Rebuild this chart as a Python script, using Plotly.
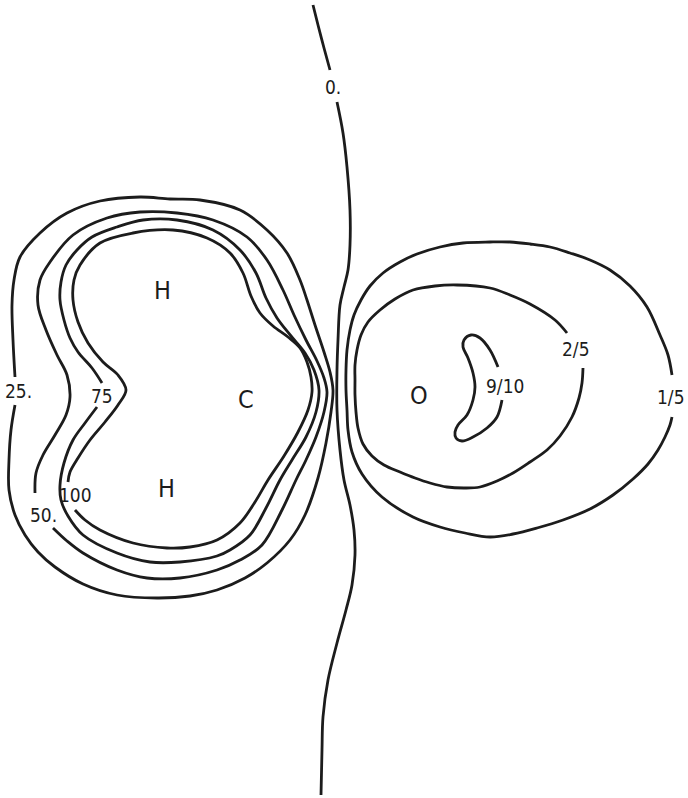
import plotly.graph_objects as go

# Contour lines of the molecular potential map (plane of the molecule),
# each given as (x, y) points in drawing units, y measured downward.

ZERO_UPPER = [(313, 5), (318, 25), (324, 48), (330, 70)]
ZERO_LOWER = [(337, 102), (343, 133), (347, 167), (350, 210), (350, 245), (348, 270),
              (344, 287), (340, 305), (338, 340), (337, 370), (337, 410), (340, 450),
              (344, 480), (350, 505), (354, 530), (355, 555), (352, 585), (346, 610),
              (337, 643), (328, 680), (323, 717), (322, 750), (321, 795)]

LEVEL_25 = [(15, 377), (13, 340), (12, 305), (14, 280), (20, 257), (40, 233), (67, 213),
            (100, 201), (140, 197), (170, 199), (200, 200), (240, 210), (267, 230),
            (287, 253), (300, 280), (307, 300), (315, 325), (324, 352), (330, 372),
            (333, 390), (331, 412), (326, 443), (318, 478), (305, 515), (290, 540),
            (267, 563), (245, 578), (217, 590), (190, 596), (157, 598), (117, 595),
            (83, 584), (55, 567), (38, 552), (25, 535), (15, 515), (9, 490), (9, 460),
            (11, 430), (15, 405)]

LEVEL_50 = [(35, 493), (36, 473), (43, 455), (55, 435), (66, 415), (70, 397), (67, 375),
            (57, 355), (46, 330), (38, 305), (40, 280), (50, 262), (73, 235), (107, 218),
            (140, 212), (177, 213), (213, 220), (247, 237), (267, 260), (283, 290),
            (294, 315), (306, 340), (317, 361), (324, 378), (327, 392), (324, 412),
            (316, 437), (306, 460), (296, 480), (282, 510), (262, 545), (240, 560),
            (217, 570), (180, 578), (147, 578), (117, 570), (83, 553), (67, 541), (53, 528)]

LEVEL_75 = [(102, 383), (92, 368), (78, 352), (70, 338), (64, 320), (60, 300), (61, 282),
            (66, 265), (77, 250), (92, 237), (117, 227), (143, 220), (177, 220),
            (213, 230), (240, 250), (256, 273), (266, 298), (277, 318), (291, 336),
            (305, 353), (314, 370), (319, 390), (316, 412), (306, 437), (292, 460),
            (280, 480), (266, 508), (250, 535), (230, 550), (217, 556), (180, 562),
            (150, 562), (117, 553), (83, 535), (68, 516), (61, 500), (60, 485),
            (64, 463), (73, 440), (85, 423), (97, 407)]

LEVEL_100 = [(68, 482), (70, 472), (78, 458), (90, 440), (105, 422), (118, 405),
             (126, 390), (118, 375), (103, 362), (88, 343), (78, 322), (73, 300),
             (74, 280), (80, 265), (100, 243), (133, 233), (173, 230), (207, 238),
             (230, 253), (243, 273), (251, 296), (260, 313), (273, 326), (288, 337),
             (300, 348), (307, 362), (311, 377), (312, 392), (308, 410), (298, 432),
             (284, 456), (268, 480), (255, 502), (240, 523), (217, 540), (190, 547),
             (167, 548), (133, 543), (100, 530), (85, 520), (75, 510)]

LEVEL_1_5 = [(672, 375), (668, 355), (660, 335), (647, 307), (630, 286), (610, 270),
             (590, 260), (570, 253), (550, 247), (530, 244), (510, 242), (490, 242),
             (463, 243), (440, 247), (417, 254), (400, 262), (383, 273), (370, 286),
             (361, 300), (354, 315), (350, 330), (347, 350), (346, 370), (346, 390),
             (347, 410), (348, 430), (352, 452), (362, 474), (382, 497), (413, 517),
             (440, 527), (465, 533), (490, 537), (513, 534), (537, 528), (563, 520),
             (590, 509), (613, 495), (633, 479), (648, 464), (658, 450), (665, 437),
             (670, 425), (672, 417)]

LEVEL_2_5 = [(567, 333), (555, 320), (530, 304), (510, 295), (490, 288), (457, 285),
             (435, 286), (413, 290), (395, 299), (380, 310), (368, 322), (361, 335),
             (357, 350), (355, 365), (355, 380), (355, 395), (356, 412), (358, 428),
             (363, 444), (372, 456), (384, 465), (400, 472), (415, 478), (430, 483),
             (447, 487), (465, 488), (480, 487), (497, 481), (513, 473), (530, 462),
             (547, 450), (560, 436), (572, 417), (579, 398), (582, 383), (583, 368)]

LEVEL_9_10 = [(502, 400), (497, 417), (487, 428), (473, 437), (462, 441), (456, 438),
              (455, 432), (458, 425), (467, 415), (473, 400), (475, 387), (473, 373),
              (468, 358), (463, 347), (464, 340), (471, 335), (480, 338), (490, 350),
              (498, 367)]

SEGMENTS = [ZERO_UPPER, ZERO_LOWER, LEVEL_25, LEVEL_50, LEVEL_75, LEVEL_100,
            LEVEL_1_5, LEVEL_2_5, LEVEL_9_10]

# Level labels placed in the gaps of the lines
LEVEL_TEXT = ["0.", "25.", "50.", "75", "100", "2/5", "9/10", "1/5"]
LEVEL_X = [333, 18, 43, 102, 75, 576, 505, 671]
LEVEL_Y = [87, 391, 515, 396, 495, 349, 386, 397]

# Atom positions
ATOM_TEXT = ["H", "C", "H", "O"]
ATOM_X = [162, 246, 166, 419]
ATOM_Y = [290, 399, 488, 395]

INK = "#1c1c1c"
FONT = "DejaVu Sans Condensed, Liberation Sans Narrow, DejaVu Sans, sans-serif"

fig = go.Figure()
for seg in SEGMENTS:
    fig.add_trace(go.Scatter(
        x=[p[0] for p in seg], y=[p[1] for p in seg], mode="lines",
        line=dict(color=INK, width=2.8, shape="spline", smoothing=1.0),
        hoverinfo="skip", showlegend=False))

for t, x, y in zip(LEVEL_TEXT, LEVEL_X, LEVEL_Y):
    fig.add_annotation(x=x, y=y, text=t, showarrow=False, xanchor="center",
                       yanchor="middle", font=dict(family=FONT, size=19, color=INK))

for t, x, y in zip(ATOM_TEXT, ATOM_X, ATOM_Y):
    fig.add_annotation(x=x, y=y, text=t, showarrow=False, xanchor="center",
                       yanchor="middle", font=dict(family=FONT, size=25, color=INK))

fig.update_layout(
    width=688, height=798, margin=dict(l=0, r=0, t=0, b=0, pad=0),
    paper_bgcolor="white", plot_bgcolor="white", hovermode=False,
    xaxis=dict(range=[0, 688], visible=False, fixedrange=True),
    yaxis=dict(range=[798, 0], visible=False, fixedrange=True),
)

fig.write_html("out.html")
